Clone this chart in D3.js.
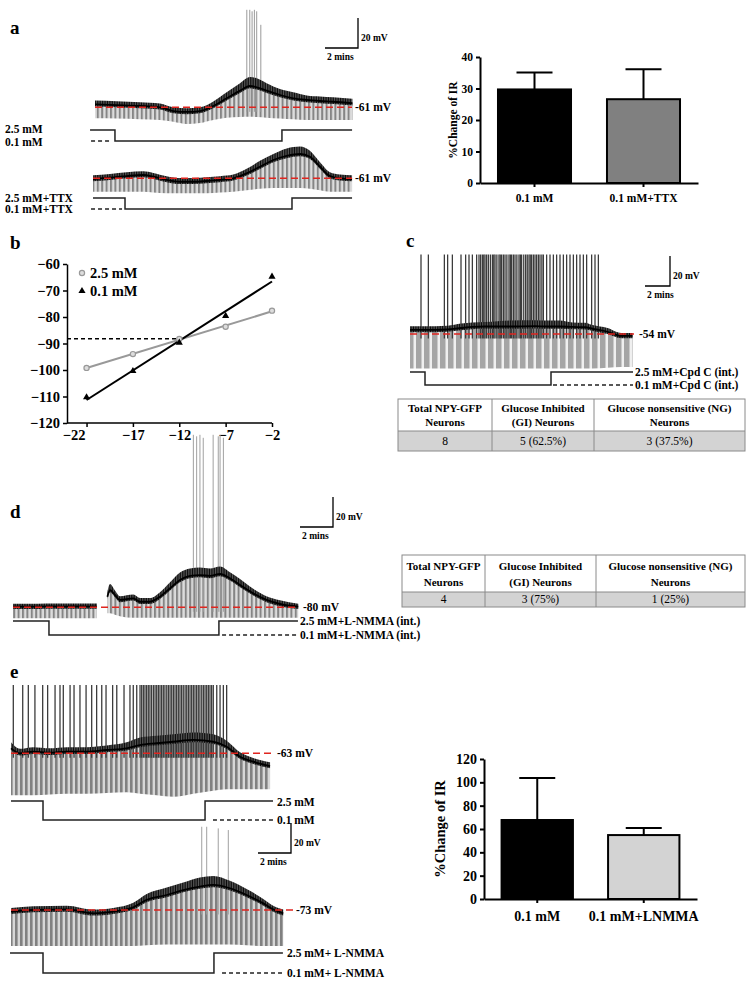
<!DOCTYPE html>
<html><head><meta charset="utf-8">
<script src="https://cdn.jsdelivr.net/npm/d3@7"></script>
<style>body{margin:0;background:#fff}</style>
</head><body><script>
// ---------------- DATA ----------------
// Panel a, top trace (time min, membrane potential mV)
const aTopT     = [0,1.31,2.73,3.94,4.75,5.56,6.36,7.17,7.98,8.79,9.39,9.80,10.4,11.21,12.02,12.83,13.64,14.44,15.6];
const aTopV     = [-59.0,-59.5,-60.1,-61.0,-63.5,-64.1,-63.5,-60.1,-55.0,-49.9,-46.8,-47.7,-49.9,-52.8,-55.0,-56.1,-56.8,-57.3,-58.3];
const aTopNoise = [2.5,2.5,2.5,2.5,2.5,2.5,2.5,3,4,5,6,6,5,4,4,3,3,3,3];
const aTopLow   = [-68.3,-68.5,-69,-69.5,-70.6,-72.1,-71.5,-69.5,-68,-67.5,-67.3,-67.5,-68,-68.5,-69,-69.5,-69.5,-69.5,-69.5];
const aTopSpikeT = [9.2,9.38,9.52,9.66,9.8,10.05];
const aTopSpikeP = [4,4,3,4,3,-6];
const aTopStim = [-0.3,1.21,11.33,15.58];
const aTopStimDash = [-0.24,0.91];
// Panel a, bottom trace (TTX)
const aBotT     = [0,1.03,2.04,3.05,3.65,4.46,5.27,6.08,6.89,7.70,8.50,9.31,10.12,10.93,11.74,12.55,13.15,13.76,14.36,14.97,15.7];
const aBotV     = [-61.5,-60.6,-59.5,-58.8,-59.9,-62.1,-63.3,-63.3,-62.8,-62.1,-61.0,-57.7,-53.3,-48.8,-46.1,-44.8,-46.6,-53.3,-59.5,-61.0,-61.5];
const aBotNoise = [2.5,2.5,2.5,2.5,2.5,2.5,2.5,2.5,2.5,2.5,2.5,3,4,4,5,5,4,3,2.5,2.5,2.5];
const aBotLow   = [-70,-70,-70,-70,-70.5,-71,-71,-71,-71,-70.5,-70,-69,-68,-67.5,-67.5,-67.5,-68,-69,-70,-70,-70];
const aBotStim = [0,1.94,12.06,15.7];
const aBotStimDash = [-0.12,1.76];
// Panel a, bar chart
const aBarCats = ["0.1 mM","0.1 mM+TTX"];
const aBarVals = [29.7,26.6];
const aBarSem  = [5.4,9.5];
const aBarTicks = [0,10,20,30,40];
// Panel b, I-V relation
const bX    = [-22,-17,-12,-7,-2];
const b25   = [-99.2,-94.0,-88.3,-83.7,-77.6];
const b01   = [-110.3,-100.4,-89.7,-79.6,-64.8];
const bXTicks = [-22,-17,-12,-7,-2];
const bYTicks = [-60,-70,-80,-90,-100,-110,-120];
// Panel c trace (Cpd C)
const cT     = [0,2,3,4.1,5,6,8,10,11,12,13,14,14.6,15.8,16.9,17.8];
const cV     = [-51.3,-51.3,-51,-50,-49.3,-49,-49,-48.8,-49,-49,-49.3,-49.5,-50.5,-52.5,-55.3,-55.3];
const cNoise = [2.5,2.5,2.5,3,3,3,4,4,4,4,3,3,2.5,2.5,2,2];
const cLow   = [-77,-77,-77,-77,-77,-77,-77,-77,-77,-77,-77,-77,-77,-76.5,-76,-76];
const cSpikeT = [0.88,1.47,2.75,3.01,3.39,4.08,4.45,4.72,4.99,5.33,5.52,5.65,5.79,5.9,6.0,6.13,6.27,6.43,6.59,6.7,6.8,6.95,7.12,7.22,7.33,7.47,7.6,7.75,7.92,8.03,8.13,8.27,8.4,8.55,8.72,8.83,8.93,9.1,9.25,9.38,9.52,9.62,9.73,9.87,10.0,10.13,10.27,10.4,10.55,10.67,10.93,11.2,11.47,11.73,12.0,12.27,12.53,12.8,13.07,13.33,13.6,13.87,14.13,14.53,14.8,15.07];
const cSpikePeak = -1;
const cStim = [0,1.2,11.28,17.84];
const cStimDash = [11.44,17.84];
const cTableHead = [["Total NPY-GFP","Neurons"],["Glucose Inhibited","(GI) Neurons"],["Glucose nonsensitive (NG)","Neurons"]];
const cTableRow = ["8","5 (62.5%)","3 (37.5%)"];
// Panel d trace (L-NMMA int.)
const dT1 = [0,1,2,3,4,5.09];
const dV1 = [-79.6,-79.6,-79.4,-79.5,-79.4,-79.5];
const dNoise1 = [2,2,2,2,2,2];
const dLow1 = [-87.3,-87.3,-87.3,-87.3,-87.3,-87.3];
const dT2 = [5.72,5.88,6.18,6.48,7.29,7.70,8.30,8.91,9.52,10.12,10.73,11.33,11.94,12.55,13.15,13.76,14.56,15.36,16.18,17.29];
const dV2 = [-72.9,-68.5,-71.8,-75.1,-74,-76.3,-76.3,-72.9,-67.3,-61.8,-59.1,-58.5,-59.1,-57.8,-60.7,-65.1,-70.7,-75.1,-77.8,-79.6];
const dNoise2 = [3,4,3,2.5,2.5,2.5,2.5,3,4,5,5,5,5,5,4,4,3,2.5,2.5,2];
const dLow2 = [-84,-84,-85,-86,-87,-87,-87,-87,-87,-87,-87,-87,-87,-87,-87,-87,-87,-87,-87,-87];
const dSpikeT = [10.93,11.13,11.33,11.53,12.13,12.44,12.55,12.75];
const dSpikeP = [35,34,35,33,35,34,35,33];
const dStim = [0,2.18,12.48,17.27];
const dStimDash = [12.67,17.2];
const dTableRow = ["4","3 (75%)","1 (25%)"];
// Panel e, top trace
const eTopT = [0,0.55,1.35,2.36,3.38,4.59,5.8,7.01,7.82,8.83,9.84,11.05,12.26,13.07,13.88,14.68,15.7];
const eTopV = [-59.7,-63,-61.9,-62.6,-61.9,-61.9,-60.8,-59.7,-57.5,-56.3,-55.3,-54.1,-55.3,-58.6,-65.3,-68.6,-71.5];
const eTopNoise = [4,3,3,3,3,3,3,4,5,5,5,5,5,4,3,2.5,2.5];
const eTopLow = [-91,-91,-91,-90.5,-90,-90,-89.5,-89,-90,-91,-92,-90,-88,-87,-87,-87,-87];
const eTopSpikeT = [0.14,0.71,1.05,1.45,1.92,2.22,2.67,2.97,3.17,3.58,3.82,4.18,4.55,4.89,5.19,5.5,5.76,6.16,6.41,6.85,7.21,7.41,7.62,7.82,7.92,8.02,8.12,8.22,8.32,8.42,8.52,8.63,8.73,8.83,8.93,9.03,9.13,9.23,9.33,9.44,9.54,9.64,9.74,9.84,9.94,10.04,10.14,10.24,10.34,10.44,10.55,10.65,10.75,10.85,10.95,11.05,11.15,11.25,11.35,11.45,11.56,11.66,11.76,11.86,11.96,12.06,12.16,12.26,12.47,12.67,12.87,13.07];
const eTopSpikePeak = -17.5;
const eTopStim = [0,1.94,11.76,15.88];
const eTopStimDash = [12.24,15.88];
// Panel e, bottom trace
const eBotT = [0,1.35,3.38,4.99,6.2,7.41,8.22,9.44,10.44,11.45,12.26,13.27,14.28,15.29,15.89,16.5];
const eBotV = [-74.1,-73,-72.6,-75.2,-74.1,-71.2,-66.3,-63,-59.7,-57.4,-56.3,-58.5,-63,-68.6,-72.6,-75.2];
const eBotNoise = [2.5,2.5,2.5,2.5,2.5,3,4,5,5,6,6,5,4,3,2.5,2.5];
const eBotLow = [-97,-97,-97,-97,-97,-97,-96.5,-96,-96,-96,-96,-96,-96.5,-97,-97,-97];
const eBotSpikeT = [11.56,11.86,12.56,13.17];
const eBotSpikeP = [-17.5,-17.5,-18.6,-19.7];
const eBotStim = [-0.06,1.94,12.3,16.48];
const eBotStimDash = [12.79,16.48];
// Panel e, bar chart
const eBarCats = ["0.1 mM","0.1 mM+LNMMA"];
const eBarVals = [67.7,54.8];
const eBarSem  = [36,6];
const eBarTicks = [0,20,40,60,80,100,120];

// ---------------- DRAWING ----------------
const FONT = "'Liberation Serif','Times New Roman',serif";
const svg = d3.select("body").append("svg").attr("width",755).attr("height",988)
  .style("font-family",FONT).style("font-weight","bold");
const defs = svg.append("defs");
function stripe(id,w,sw,bg,fg){
  const p = defs.append("pattern").attr("id",id).attr("patternUnits","userSpaceOnUse").attr("width",w).attr("height",10);
  p.append("rect").attr("width",w).attr("height",10).attr("fill",bg);
  p.append("rect").attr("width",sw).attr("height",10).attr("fill",fg);
}
stripe("pa",4.4,2,"#dcdcdc","#858585");
stripe("pc",8,5.5,"#efefef","#a5a5a5");
stripe("pe",5,2.6,"#d6d6d6","#808080");
stripe("fz",1.7,1,"#6a6a6a","#0a0a0a");

function txt(x,y,s,size,opt={}){
  return svg.append("text").attr("x",x).attr("y",y).text(s).attr("font-size",size)
    .attr("text-anchor",opt.anchor||"start").attr("font-weight",opt.weight||"bold")
    .attr("fill",opt.fill||"#000");
}

function drawTrace(o){
  const x = d3.scaleLinear().domain([0,1]).range([o.x0,o.x0+o.ppm]);
  const y = d3.scaleLinear().domain([o.rest,o.rest+1]).range([o.yRest,o.yRest-1.5]);
  const g = svg.append("g");
  const segs = o.segs.map(s=>s.t.map((t,i)=>({t,v:s.v[i],f:s.f[i],lo:s.lo[i]})));
  segs.forEach(rows=>{
    g.append("path").attr("d",d3.area().x(d=>x(d.t)).y0(d=>y(d.lo)).y1(d=>y(d.v)).curve(d3.curveMonotoneX)(rows))
      .attr("fill",`url(#${o.pat})`);
  });
  g.selectAll(null).data(o.spikes).join("line")
    .attr("x1",d=>x(d.t)).attr("x2",d=>x(d.t)).attr("y1",y(o.rest-3)).attr("y2",d=>y(d.p))
    .attr("stroke",o.spikeColor||"#8a8a8a").attr("stroke-width",o.spikeW||1);
  segs.forEach(rows=>{
    g.append("path").attr("d",d3.area().x(d=>x(d.t)).y0(d=>y(d.v-1.5)).y1(d=>y(d.v+d.f)).curve(d3.curveMonotoneX)(rows))
      .attr("fill","url(#fz)");
    g.append("path").attr("d",d3.line().x(d=>x(d.t)).y(d=>y(d.v)).curve(d3.curveMonotoneX)(rows))
      .attr("fill","none").attr("stroke","#000").attr("stroke-width",1.8);
  });
  g.append("line").attr("x1",o.x0).attr("x2",o.redEnd).attr("y1",y(o.rest)).attr("y2",y(o.rest))
    .attr("stroke","#e0251f").attr("stroke-width",1.4).attr("stroke-dasharray","7,4");
  txt(o.labelX,y(o.rest)+4,o.label,11.5);
  return {x,y};
}
function drawStim(tr,t,dash,hi,lo,labels,lx,ly){
  const x = tr.x;
  const pts = [[x(t[0]),hi],[x(t[1]),hi],[x(t[1]),lo],[x(t[2]),lo],[x(t[2]),hi],[x(t[3]),hi]];
  svg.append("path").attr("d",d3.line()(pts)).attr("fill","none").attr("stroke","#222").attr("stroke-width",1.5);
  svg.append("line").attr("x1",x(dash[0])).attr("x2",x(dash[1])).attr("y1",lo).attr("y2",lo)
    .attr("stroke","#222").attr("stroke-width",1.3).attr("stroke-dasharray","4,3");
  txt(lx,ly[0],labels[0],11.5); txt(lx,ly[1],labels[1],11.5);
}
function scaleBar(tr,cx,cy,fs){
  const h = Math.abs(tr.y(0)-tr.y(20)), w = tr.x(2)-tr.x(0);
  svg.append("path").attr("d",`M${cx-w},${cy}H${cx}V${cy-h}`).attr("fill","none").attr("stroke","#000").attr("stroke-width",1.3);
  txt(cx+3,cy-7,"20 mV",fs);
  txt(cx-w+2,cy+12,"2 mins",fs);
}
const mkSpikes = (ts,ps)=>ts.map((t,i)=>({t,p:Array.isArray(ps)?ps[i]:ps}));

// ---- Panel a ----
txt(10,34,"a",19);
const trA1 = drawTrace({x0:95,ppm:16.5,rest:-61,yRest:107.3,pat:"pa",redEnd:352,labelX:355,label:"-61 mV",
  segs:[{t:aTopT,v:aTopV,f:aTopNoise,lo:aTopLow}],spikes:mkSpikes(aTopSpikeT,aTopSpikeP),spikeColor:"#9a9a9a"});
drawStim(trA1,aTopStim,aTopStimDash,130,141,["2.5 mM","0.1 mM"],5,[133,146]);
scaleBar(trA1,358,48,9.5);
const trA2 = drawTrace({x0:93,ppm:16.5,rest:-61,yRest:178.3,pat:"pa",redEnd:352,labelX:355,label:"-61 mV",
  segs:[{t:aBotT,v:aBotV,f:aBotNoise,lo:aBotLow}],spikes:[]});
drawStim(trA2,aBotStim,aBotStimDash,198,209,["2.5 mM+TTX","0.1 mM+TTX"],5,[202,213]);

function barChart(o){
  const x = d3.scaleBand().domain(o.cats).range([o.x0,o.x1]).paddingInner(0.33).paddingOuter(0.165);
  const y = d3.scaleLinear().domain([0,o.max]).range([o.yb,o.yt]);
  const g = svg.append("g");
  g.selectAll(null).data(o.cats).join("rect")
    .attr("x",d=>x(d)).attr("width",x.bandwidth()).attr("y",(d,i)=>y(o.vals[i])).attr("height",(d,i)=>y(0)-y(o.vals[i]))
    .attr("fill",(d,i)=>o.fills[i]).attr("stroke","#000").attr("stroke-width",2);
  o.cats.forEach((c,i)=>{
    const cx = x(c)+x.bandwidth()/2;
    g.append("line").attr("x1",cx).attr("x2",cx).attr("y1",y(o.vals[i])).attr("y2",y(o.vals[i]+o.sem[i])).attr("stroke","#000").attr("stroke-width",2);
    g.append("line").attr("x1",cx-18).attr("x2",cx+18).attr("y1",y(o.vals[i]+o.sem[i])).attr("y2",y(o.vals[i]+o.sem[i])).attr("stroke","#000").attr("stroke-width",2);
  });
  const ya = g.append("g").attr("transform",`translate(${o.x0},0)`)
    .call(d3.axisLeft(y).tickValues(o.ticks).tickSize(4).tickSizeOuter(0));
  const xa = g.append("g").attr("transform",`translate(0,${o.yb})`)
    .call(d3.axisBottom(x).tickSize(4).tickSizeOuter(0));
  [ya,xa].forEach(a=>{
    a.selectAll("path,line").attr("stroke","#000").attr("stroke-width",2);
    a.selectAll("text").attr("font-family",FONT).attr("font-weight","bold").attr("font-size",o.fs).attr("fill","#000");
  });
  xa.selectAll("text").attr("dy","1.05em");
  svg.append("text").attr("transform",`translate(${o.lx},${(o.yb+o.yt)/2}) rotate(-90)`).attr("text-anchor","middle")
    .attr("font-size",o.lfs).text("%Change of IR");
}
barChart({cats:aBarCats,vals:aBarVals,sem:aBarSem,ticks:aBarTicks,max:40,x0:480,x1:698,yb:183,yt:57,
  fills:["#000","#808080"],fs:11.5,lfs:11.5,lx:457});

// ---- Panel b ----
txt(10,249,"b",19);
{
  const x = d3.scaleLinear().domain([-24,-2]).range([68,272]);
  const y = d3.scaleLinear().domain([-120,-60]).range([423,264]);
  const g = svg.append("g");
  const ya = g.append("g").attr("transform","translate(67,0)").call(d3.axisLeft(y).tickValues(bYTicks).tickSize(4).tickSizeOuter(0));
  const xa = g.append("g").attr("transform","translate(0,423)").call(d3.axisBottom(x).tickValues(bXTicks).tickSize(4).tickSizeOuter(0));
  [ya,xa].forEach(a=>{
    a.select(".domain").attr("stroke","#000").attr("stroke-width",1.5);
    a.selectAll("line").attr("stroke","#000").attr("stroke-width",1.5);
    a.selectAll("text").attr("font-family",FONT).attr("font-weight","bold").attr("font-size",14.5).attr("fill","#000");
  });
  xa.select(".domain").attr("d","M67,0H272");
  xa.selectAll(".tick").filter(d=>d===bXTicks[0]).select("text").attr("dx",-13);
  function fit(xs,ys){
    const mx=d3.mean(xs),my=d3.mean(ys);
    const s=d3.sum(xs,(v,i)=>(v-mx)*(ys[i]-my))/d3.sum(xs,v=>(v-mx)**2);
    return {s,b:my-s*mx};
  }
  const f1=fit(bX,b25), f2=fit(bX,b01);
  const xi=(f2.b-f1.b)/(f1.s-f2.s), yi=f1.s*xi+f1.b;
  g.append("line").attr("x1",67).attr("x2",x(xi)).attr("y1",y(yi)).attr("y2",y(yi))
    .attr("stroke","#000").attr("stroke-width",1.5).attr("stroke-dasharray","4,3");
  const xe=d3.extent(bX);
  g.append("line").attr("x1",x(xe[0])).attr("x2",x(xe[1])).attr("y1",y(f1.s*xe[0]+f1.b)).attr("y2",y(f1.s*xe[1]+f1.b))
    .attr("stroke","#999").attr("stroke-width",2);
  g.append("line").attr("x1",x(xe[0])).attr("x2",x(xe[1])).attr("y1",y(f2.s*xe[0]+f2.b)).attr("y2",y(f2.s*xe[1]+f2.b))
    .attr("stroke","#000").attr("stroke-width",2);
  g.selectAll(null).data(bX).join("circle").attr("cx",d=>x(d)).attr("cy",(d,i)=>y(b25[i])).attr("r",2.6)
    .attr("fill","#ddd").attr("stroke","#999").attr("stroke-width",1.2);
  const tri = d3.symbol().type(d3.symbolTriangle).size(22);
  g.selectAll(null).data(bX).join("path").attr("d",tri).attr("transform",(d,i)=>`translate(${x(d)},${y(b01[i])})`).attr("fill","#000");
  g.append("circle").attr("cx",82).attr("cy",273).attr("r",2.6).attr("fill","#ddd").attr("stroke","#999").attr("stroke-width",1.2);
  g.append("path").attr("d",tri).attr("transform","translate(82,291)").attr("fill","#000");
  txt(90,278,"2.5 mM",14.5);
  txt(90,296,"0.1 mM",14.5);
}

// ---- Panel c ----
txt(406,247,"c",19);
const trC = drawTrace({x0:410,ppm:12.5,rest:-54,yRest:334,pat:"pc",redEnd:634,labelX:639,label:"-54 mV",
  segs:[{t:cT,v:cV,f:cNoise,lo:cLow}],spikes:mkSpikes(cSpikeT,cSpikePeak),spikeColor:"#3c3c3c",spikeW:1.3});
drawStim(trC,cStim,cStimDash,372,385,["2.5 mM+Cpd C (int.)","0.1 mM+Cpd C (int.)"],635,[376,389]);
scaleBar(trC,670,286,9.5);

function table(x0,x1,c1,c2,top,hb,bot,head,row){
  const g = svg.append("g");
  g.append("rect").attr("x",x0).attr("y",hb).attr("width",x1-x0).attr("height",bot-hb).attr("fill","#d3d3d3");
  g.append("rect").attr("x",x0).attr("y",top).attr("width",x1-x0).attr("height",bot-top).attr("fill","none").attr("stroke","#8a8a8a").attr("stroke-width",1);
  g.append("line").attr("x1",x0).attr("x2",x1).attr("y1",hb).attr("y2",hb).attr("stroke","#8a8a8a");
  [c1,c2].forEach(c=>g.append("line").attr("x1",c).attr("x2",c).attr("y1",top).attr("y2",bot).attr("stroke","#8a8a8a"));
  const cx=[(x0+c1)/2,(c1+c2)/2,(c2+x1)/2];
  const hh = hb-top;
  head.forEach((h,i)=>{ txt(cx[i],top+hh*0.41,h[0],11,{anchor:"middle"}); txt(cx[i],top+hh*0.84,h[1],11,{anchor:"middle"}); });
  row.forEach((r,i)=>txt(cx[i],bot-(bot-hb)*0.28,r,11.5,{anchor:"middle",weight:"normal"}));
}
table(398,745,492,594,399,431,451,cTableHead,cTableRow);

// ---- Panel d ----
txt(10,518,"d",19);
const trD = drawTrace({x0:13,ppm:16.5,rest:-80,yRest:607.3,pat:"pa",redEnd:298,labelX:303,label:"-80 mV",
  segs:[{t:dT1,v:dV1,f:dNoise1,lo:dLow1},{t:dT2,v:dV2,f:dNoise2,lo:dLow2}],spikes:mkSpikes(dSpikeT,dSpikeP),spikeColor:"#a0a0a0"});
drawStim(trD,dStim,dStimDash,621,635,["2.5 mM+L-NMMA (int.)","0.1 mM+L-NMMA (int.)"],300,[625,639]);
scaleBar(trD,333,527,9.5);
table(402,745,485,596,555,592,607,cTableHead,dTableRow);

// ---- Panel e ----
txt(10,678,"e",19);
const trE1 = drawTrace({x0:11,ppm:16.5,rest:-63,yRest:753.3,pat:"pe",redEnd:273,labelX:277,label:"-63 mV",
  segs:[{t:eTopT,v:eTopV,f:eTopNoise,lo:eTopLow}],spikes:mkSpikes(eTopSpikeT,eTopSpikePeak),spikeColor:"#3c3c3c",spikeW:1.3});
drawStim(trE1,eTopStim,eTopStimDash,801,820,["2.5 mM","0.1 mM"],277,[806,824]);
const trE2 = drawTrace({x0:11,ppm:16.5,rest:-73,yRest:910,pat:"pe",redEnd:294,labelX:296,label:"-73 mV",
  segs:[{t:eBotT,v:eBotV,f:eBotNoise,lo:eBotLow}],spikes:mkSpikes(eBotSpikeT,eBotSpikeP),spikeColor:"#a0a0a0"});
scaleBar(trE2,291,853,9.5);
drawStim(trE2,eBotStim,eBotStimDash,953,973,["2.5 mM+ L-NMMA","0.1 mM+ L-NMMA"],287,[957,977]);
barChart({cats:eBarCats,vals:eBarVals,sem:eBarSem,ticks:eBarTicks,max:120,x0:484,x1:697,yb:899,yt:759,
  fills:["#000","#d3d3d3"],fs:14,lfs:14.5,lx:445});
</script></body></html>
